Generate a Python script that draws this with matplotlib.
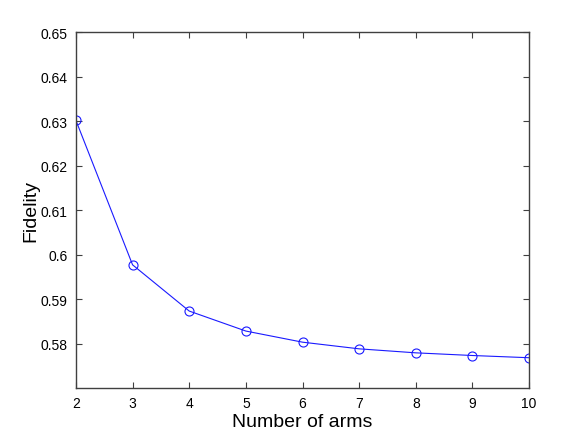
import matplotlib
matplotlib.use("Agg")
import matplotlib.pyplot as plt

plt.rcParams["font.family"] = ["Liberation Sans", "DejaVu Sans"]

arms = [2, 3, 4, 5, 6, 7, 8, 9, 10]
fidelity = [0.6302, 0.5977, 0.5873, 0.5828, 0.5803, 0.5788, 0.5779, 0.5773, 0.5768]

fig = plt.figure(figsize=(5.84, 4.39), dpi=100)
ax = fig.add_axes([0.13, 0.114, 0.776, 0.81])

ax.plot(arms, fidelity, color="#1a1aff", linewidth=0.8, marker="o",
        markersize=6.5, markerfacecolor="none", markeredgecolor="#1a1aff",
        markeredgewidth=0.8)

ax.set_xlim(2, 10)
ax.set_ylim(0.57, 0.65)
ax.set_xticks(range(2, 11))
ax.set_yticks([0.58, 0.59, 0.6, 0.61, 0.62, 0.63, 0.64, 0.65])
ax.set_yticklabels(["0.58", "0.59", "0.6", "0.61", "0.62", "0.63", "0.64", "0.65"])
ax.tick_params(direction="in", length=4, labelsize=10, top=True, right=True,
               color="#404040", pad=6)
for s in ax.spines.values():
    s.set_color("#404040")
    s.set_linewidth(1.0)

ax.set_xlabel("Number of arms", fontsize=14, labelpad=2)
ax.set_ylabel("Fidelity", fontsize=14, labelpad=1)

fig.savefig("out.png", dpi=100)
